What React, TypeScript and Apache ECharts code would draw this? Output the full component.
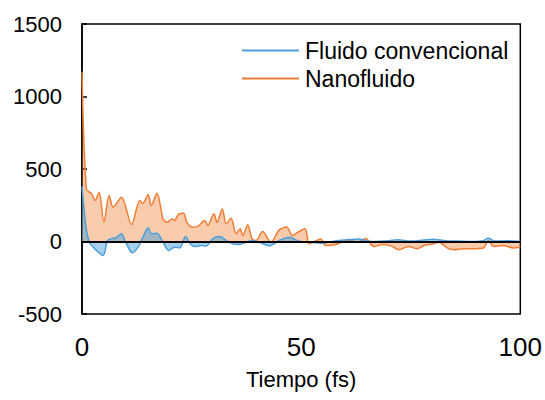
import React, { useEffect, useRef } from "react";
import * as echarts from "echarts";

const seriesNames = ["Fluido convencional", "Nanofluido"];
const xTicks = [0, 50, 100];
const yTicks = [-500, 0, 500, 1000, 1500];

const blueT = [0, 0.9, 1.7, 2.6, 3.7, 4.8, 5.8, 6.4, 7.7, 9.0, 9.8, 11.5, 12.8, 13.9, 15.1, 15.8, 17.1, 18.5, 19.8, 21.1, 22.3, 23.6, 24.7, 25.7, 27.2, 28.3, 29.8, 31.4, 32.9, 34.4, 35.9, 37.4, 38.9, 40.5, 42.7, 45.0, 47.3, 49.5, 52, 55, 58, 60, 63, 66, 70, 72, 75, 78, 80, 83, 86, 89, 91.5, 92.7, 94, 97, 100];
const blueV = [380, 99, -5, -39, -74, -97, 7, 18, 25, 53, 7, -78, -39, 30, 94, 53, 57, -5, -62, -39, -44, 34, -16, -35, -28, -32, 18, 34, 7, -16, -21, -5, 7, -5, -30, 7, 30, 2, -5, -12, 5, 10, 18, 0, 5, 12, 3, 10, 15, 5, 3, 0, 5, 25, 3, 5, 0];

const orangeT = [0, 1.0, 2.2, 3.0, 3.9, 5.0, 6.2, 7.1, 9.0, 11.3, 13.2, 13.9, 15.1, 15.8, 17.1, 18.5, 19.4, 20.6, 21.1, 22.1, 23.2, 23.9, 25.2, 26.4, 28.0, 28.7, 30.1, 30.8, 32.0, 32.9, 34.0, 35.2, 36.1, 36.7, 37.8, 38.8, 39.7, 41.2, 43.1, 45.0, 46.7, 48.0, 49.0, 50.9, 51.8, 53.0, 54.5, 55.6, 57.9, 59.5, 60.9, 62.8, 64.7, 66.6, 68.5, 70.5, 72.3, 74.5, 76.4, 78.0, 80.2, 81.4, 83.3, 84.8, 87.0, 89.3, 91.6, 92.7, 93.9, 96.1, 98.4, 100];
const orangeV = [1170, 360, 330, 283, 340, 133, 317, 237, 306, 117, 283, 264, 324, 248, 333, 156, 133, 156, 145, 191, 195, 133, 99, 104, 145, 110, 191, 133, 225, 122, 160, 53, 88, 41, 115, 18, 7, 69, -5, 80, 100, 41, 60, 88, -16, 0, 18, -28, -21, 0, 12, -5, 20, -35, -21, -30, -57, -35, -50, -28, -16, -5, -44, -57, -50, -50, -45, 7, -35, -28, -44, -40];

const FONT = "Arial, 'Liberation Sans', sans-serif";

export default function App() {
  const ref = useRef<HTMLDivElement>(null);
  useEffect(() => {
    if (!ref.current) return;
    const chart = echarts.init(ref.current, null, { renderer: "svg" });
    const blueData = blueT.map((t, i) => [t, blueV[i]]);
    const orangeData = orangeT.map((t, i) => [t, orangeV[i]]);
    chart.setOption({
      animation: false,
      backgroundColor: "#ffffff",
      textStyle: { fontFamily: FONT },
      grid: {
        left: 82,
        right: 23,
        top: 24,
        bottom: 86,
        show: true,
        borderColor: "#000",
        borderWidth: 1.5,
        backgroundColor: "transparent",
      },
      legend: {
        orient: "vertical",
        left: 237,
        top: 34,
        itemWidth: 57,
        itemHeight: 2,
        itemGap: 5,
        icon: "rect",
        data: seriesNames,
        textStyle: { fontSize: 23, color: "#000", fontFamily: FONT, padding: [0, 0, 0, 1] },
      },
      xAxis: {
        type: "value",
        min: xTicks[0],
        max: xTicks[xTicks.length - 1],
        interval: 50,
        name: "Tiempo (fs)",
        nameLocation: "middle",
        nameGap: 54,
        nameTextStyle: { fontSize: 22, color: "#000", fontFamily: FONT },
        axisLine: { show: false, onZero: false },
        axisTick: { show: false },
        splitLine: { show: false },
        axisLabel: { fontSize: 26, color: "#000", margin: 20, fontFamily: FONT, formatter: (v: number) => String(v) },
      },
      yAxis: {
        type: "value",
        min: yTicks[0],
        max: yTicks[yTicks.length - 1],
        interval: 500,
        axisLine: { show: true, lineStyle: { color: "#000", width: 1.5 } },
        axisTick: { show: true, inside: true, length: 5, lineStyle: { color: "#000", width: 1.5 } },
        splitLine: { show: false },
        axisLabel: { fontSize: 22, color: "#000", margin: 20, fontFamily: FONT, formatter: (v: number) => String(v) },
      },
      series: [
        {
          name: seriesNames[1],
          type: "line",
          data: orangeData,
          smooth: 0.3,
          showSymbol: false,
          color: "#F07D33",
          lineStyle: { color: "#F07D33", width: 1.5 },
          areaStyle: { color: "#F07D33", opacity: 0.4 },
          z: 2,
          markLine: {
            silent: true,
            symbol: "none",
            label: { show: false },
            lineStyle: { color: "#000", width: 2, type: "solid" },
            data: [{ yAxis: 0 }],
          },
        },
        {
          name: seriesNames[0],
          type: "line",
          data: blueData,
          smooth: 0.3,
          showSymbol: false,
          color: "#4C9FD8",
          lineStyle: { color: "#4C9FD8", width: 1.5 },
          areaStyle: { color: "#4C9FD8", opacity: 0.5 },
          z: 3,
        },
      ],
    });
    return () => chart.dispose();
  }, []);
  return <div ref={ref} style={{ width: 545, height: 400, position: "absolute", left: 0, top: 0 }} />;
}
